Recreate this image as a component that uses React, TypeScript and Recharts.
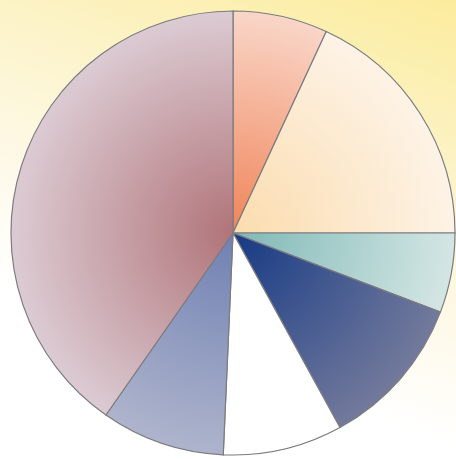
import React from 'react';
import { PieChart, Pie, Cell } from 'recharts';

// slice order: clockwise from 12 o'clock
const segments = ['A', 'B', 'C', 'D', 'E', 'F', 'G'];
const shares = [6.9, 18.1, 5.8, 11.2, 8.7, 9.0, 40.3];

// inner (near centre) and outer colour of each slice's radial shading
const innerColors = ['#f08458', '#fbdcae', '#7fb8b6', '#163a84', '#ffffff', '#6f80b2', '#b07479'];
const outerColors = ['#f9d6c8', '#fdf3e6', '#d4e6e4', '#737a9c', '#ffffff', '#aeb4cc', '#dccbd3'];

const W = 456;
const H = 459;
const CX = 233;
const CY = 233;
const R = 222;

const data = segments.map((name, i) => ({ name, value: shares[i] }));

export default function App() {
  return (
    <div
      style={{
        position: 'absolute',
        left: 0,
        top: 0,
        width: W,
        height: H,
        background: 'linear-gradient(200deg, #fbec9c 0%, #fcf3c8 28%, #fefaec 55%, #ffffff 72%)',
      }}
    >
      <PieChart width={W} height={H} margin={{ top: 0, right: 0, bottom: 0, left: 0 }}>
        <defs>
          {segments.map((s, i) => (
            <radialGradient
              key={s}
              id={`grad-${s}`}
              gradientUnits="userSpaceOnUse"
              cx={CX}
              cy={CY}
              r={R}
            >
              <stop offset="0%" stopColor={innerColors[i]} />
              <stop offset="100%" stopColor={outerColors[i]} />
            </radialGradient>
          ))}
        </defs>
        <Pie
          data={data}
          dataKey="value"
          nameKey="name"
          cx={CX}
          cy={CY}
          outerRadius={R}
          startAngle={90}
          endAngle={-270}
          stroke="#7b7b80"
          strokeWidth={1.2}
          isAnimationActive={false}
          label={false}
          labelLine={false}
        >
          {data.map((d) => (
            <Cell key={d.name} fill={`url(#grad-${d.name})`} />
          ))}
        </Pie>
      </PieChart>
    </div>
  );
}
